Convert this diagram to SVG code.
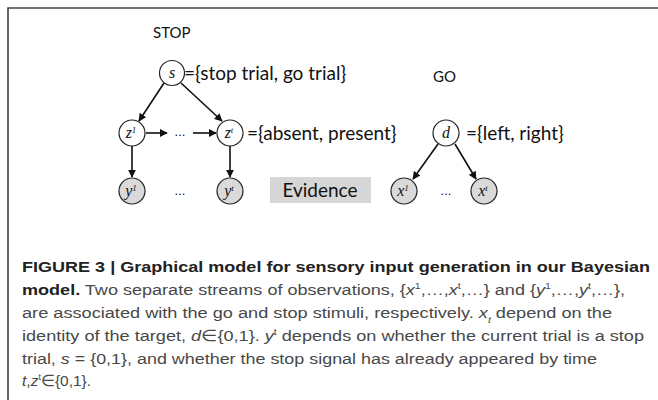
<svg xmlns="http://www.w3.org/2000/svg" width="658" height="400" viewBox="0 0 658 400">
<defs>
<marker id="ah" viewBox="0 0 10 10" refX="9" refY="5" markerWidth="8" markerHeight="8" orient="auto" markerUnits="userSpaceOnUse">
<path d="M0,0 L10,5 L0,10 Z" fill="#111"/>
</marker>
<style>
.lbl{font-family:"Lato","Open Sans","Liberation Sans",sans-serif;font-size:19px;fill:#111}
.hd{font-family:"Lato","Open Sans","Liberation Sans",sans-serif;font-size:15px;fill:#111}
.var{font-family:"Liberation Serif",serif;font-style:italic;font-size:16px;fill:#111}
.sup{font-size:9px}
.node{fill:#fff;stroke:#222;stroke-width:1.2}
.obs{fill:#dadada;stroke:#222;stroke-width:1.2}
.edge{stroke:#111;stroke-width:1.6;fill:none;marker-end:url(#ah)}
.dots{font-family:"Liberation Sans",sans-serif;font-size:13px;fill:#111}
.cap{font-family:"Liberation Sans",Arial,sans-serif;font-size:15.5px;fill:#484848}
.capb{font-weight:bold;fill:#222}
.it{font-style:italic}
</style>
</defs>
<rect width="658" height="400" fill="#fff"/>
<path d="M8,400 V8 H658" fill="none" stroke="#444" stroke-width="1.6"/>

<text class="hd" x="153" y="38">STOP</text>
<text class="hd" x="433" y="82" font-size="16">GO</text>

<g id="connectors">
<line class="edge" x1="164" y1="83" x2="139" y2="121"/>
<line class="edge" x1="181" y1="83" x2="222" y2="121"/>
<line class="edge" x1="146" y1="133" x2="167" y2="133"/>
<line class="edge" x1="193" y1="133" x2="216" y2="133"/>
<line class="edge" x1="132" y1="146" x2="132" y2="177"/>
<line class="edge" x1="230" y1="146" x2="230" y2="177"/>
<line class="edge" x1="438" y1="144" x2="413" y2="179"/>
<line class="edge" x1="455" y1="144" x2="476" y2="179"/>
</g>

<g id="node-s">
<circle class="node" cx="172" cy="73" r="12.5"/>
<text class="var" x="172" y="78" text-anchor="middle">s</text>
<text class="lbl" x="184" y="80">={stop trial, go trial}</text>
</g>
<g id="node-z1">
<circle class="node" cx="132" cy="133" r="13"/>
<text class="var" x="131" y="138" text-anchor="middle">z<tspan class="sup" dy="-5">1</tspan></text>
</g>
<text class="dots" x="180" y="136" text-anchor="middle">...</text>
<g id="node-zt">
<circle class="node" cx="230" cy="133" r="13"/>
<text class="var" x="229" y="138" text-anchor="middle">z<tspan class="sup" dy="-5">t</tspan></text>
<text class="lbl" x="247" y="140">={absent, present}</text>
</g>
<g id="node-y1">
<circle class="obs" cx="132" cy="191" r="13"/>
<text class="var" x="131" y="196" text-anchor="middle">y<tspan class="sup" dy="-5">1</tspan></text>
</g>
<text class="dots" x="180" y="195" text-anchor="middle">...</text>
<g id="node-yt">
<circle class="obs" cx="230" cy="191" r="13"/>
<text class="var" x="229" y="196" text-anchor="middle">y<tspan class="sup" dy="-5">t</tspan></text>
</g>
<g id="evidence">
<rect x="270" y="177" width="101" height="26" fill="#d6d6d6"/>
<text class="lbl" x="320" y="197" text-anchor="middle" font-size="18">Evidence</text>
</g>
<g id="node-d">
<circle class="node" cx="446" cy="133" r="13"/>
<text class="var" x="446" y="138" text-anchor="middle">d</text>
<text class="lbl" x="466" y="140">={left, right}</text>
</g>
<g id="node-x1">
<circle class="obs" cx="404" cy="191" r="13"/>
<text class="var" x="403" y="196" text-anchor="middle">x<tspan class="sup" dy="-5">1</tspan></text>
</g>
<text class="dots" x="446" y="195" text-anchor="middle">...</text>
<g id="node-xt">
<circle class="obs" cx="484" cy="191" r="13"/>
<text class="var" x="483" y="196" text-anchor="middle">x<tspan class="sup" dy="-5">t</tspan></text>
</g>

<g id="caption">
<text class="cap capb" x="22" y="272" textLength="628" lengthAdjust="spacingAndGlyphs">FIGURE 3 | Graphical model for sensory input generation in our Bayesian</text>
<text class="cap" x="22" y="295" textLength="603" lengthAdjust="spacingAndGlyphs"><tspan class="capb">model.</tspan> Two separate streams of observations, {<tspan class="it">x</tspan><tspan font-size="9" dy="-6">1</tspan><tspan dy="6">,…,</tspan><tspan class="it">x</tspan><tspan font-size="9" dy="-6">t</tspan><tspan dy="6">,…} and {</tspan><tspan class="it">y</tspan><tspan font-size="9" dy="-6">1</tspan><tspan dy="6">,…,</tspan><tspan class="it">y</tspan><tspan font-size="9" dy="-6">t</tspan><tspan dy="6">,…},</tspan></text>
<text class="cap" x="22" y="318" textLength="590" lengthAdjust="spacingAndGlyphs">are associated with the go and stop stimuli, respectively. <tspan class="it">x</tspan><tspan class="it" font-size="9" dy="5">t</tspan><tspan dy="-5"> depend on the</tspan></text>
<text class="cap" x="22" y="341" textLength="622" lengthAdjust="spacingAndGlyphs">identity of the target, <tspan class="it">d</tspan>∈{0,1}. <tspan class="it">y</tspan><tspan font-size="9" dy="-6">t</tspan><tspan dy="6"> depends on whether the current trial is a stop</tspan></text>
<text class="cap" x="22" y="364" textLength="575" lengthAdjust="spacingAndGlyphs">trial, <tspan class="it">s</tspan> = {0,1}, and whether the stop signal has already appeared by time</text>
<text class="cap" x="22" y="386"><tspan class="it">t</tspan>,<tspan class="it">z</tspan><tspan font-size="9" dy="-6">t</tspan><tspan dy="6">∈{0,1}.</tspan></text>
</g>
</svg>
